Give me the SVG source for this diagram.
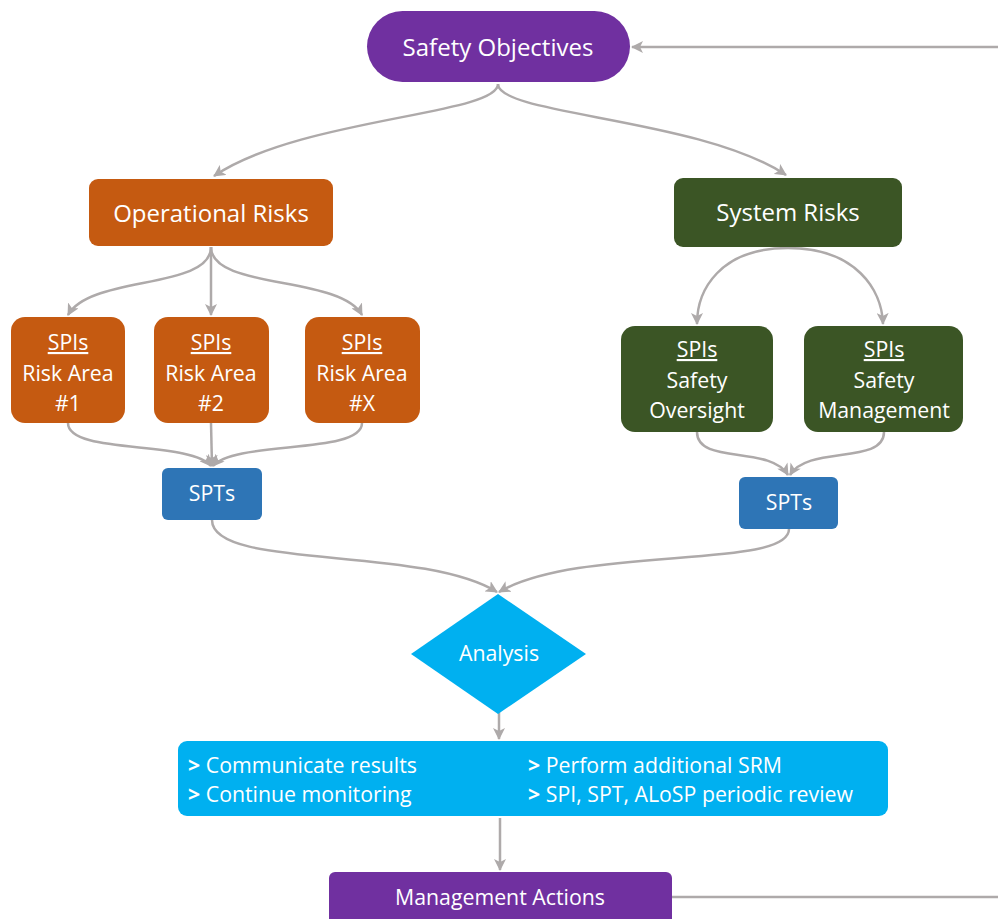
<svg xmlns="http://www.w3.org/2000/svg" width="998" height="919" viewBox="0 0 998 919">
<defs>
<marker id="ah" viewBox="0 0 12 12" refX="11" refY="6" markerWidth="12" markerHeight="12" markerUnits="userSpaceOnUse" orient="auto">
<path d="M0,0 L12,6 L0,12 L3,6 Z" fill="#AEAAAA"/>
</marker>
<style>
text{font-family:"Open Sans","Noto Sans","Liberation Sans",sans-serif;fill:#fff;}
.c{text-anchor:middle;}
.con{fill:none;stroke:#AEAAAA;stroke-width:2.5;marker-end:url(#ah);}
.line{fill:none;stroke:#AEAAAA;stroke-width:2.5;}
.purple{fill:#7030A0;}
.orange{fill:#C55A11;}
.green{fill:#3B5525;}
.blue{fill:#2E75B6;}
.cyan{fill:#00B0F0;}
.u{text-decoration:underline;}
.big{font-size:24px;}
.mid{font-size:21.3px;}
</style>
</defs>
<rect width="998" height="919" fill="#fff"/>
<g id="connectors">
<path class="con" d="M998,47 L632,47"/>
<path class="line" d="M672,897 L998,897"/>
<path class="con" d="M498,84 C498,115 300,118 214,176"/>
<path class="con" d="M498,84 C498,115 700,118 786,175"/>
<path class="con" d="M211,247 C211,290 90,275 68,315"/>
<path class="con" d="M211,247 L211,315"/>
<path class="con" d="M211,247 C211,290 340,275 362,315"/>
<path class="con" d="M788,248 C720,248 697,290 697,324"/>
<path class="con" d="M788,248 C856,248 882,290 883,324"/>
<path class="con" d="M68,423 C68,455 190,440 211,466"/>
<path class="con" d="M211,423 L212,466"/>
<path class="con" d="M362,423 C362,455 235,440 213,466"/>
<path class="con" d="M697,432 C697,465 770,445 788,475"/>
<path class="con" d="M884,432 C884,465 808,445 790,475"/>
<path class="con" d="M212,520 C212,570 420,545 497,592"/>
<path class="con" d="M789,529 C789,570 580,545 499,592"/>
<path class="con" d="M499,712 L499,739"/>
<path class="con" d="M500,818 L500,870"/>
</g>
<g id="safety-objectives">
<rect class="purple" x="367" y="11" width="263" height="71" rx="35.5"/>
<text class="c big" x="498" y="56">Safety Objectives</text>
</g>
<g id="operational-risks">
<rect class="orange" x="89" y="179" width="244" height="67" rx="9"/>
<text class="c big" x="211" y="222">Operational Risks</text>
</g>
<g id="system-risks">
<rect class="green" x="674" y="178" width="228" height="69" rx="9"/>
<text class="c big" x="788" y="221">System Risks</text>
</g>
<g id="spi-ra1">
<rect class="orange" x="11" y="317" width="114" height="106" rx="14"/>
<text class="c mid"><tspan class="u" x="68" y="350">SPIs</tspan><tspan x="68" y="381">Risk Area</tspan><tspan x="68" y="411">#1</tspan></text>
</g>
<g id="spi-ra2">
<rect class="orange" x="154" y="317" width="115" height="106" rx="14"/>
<text class="c mid"><tspan class="u" x="211" y="350">SPIs</tspan><tspan x="211" y="381">Risk Area</tspan><tspan x="211" y="411">#2</tspan></text>
</g>
<g id="spi-rax">
<rect class="orange" x="305" y="317" width="115" height="106" rx="14"/>
<text class="c mid"><tspan class="u" x="362" y="350">SPIs</tspan><tspan x="362" y="381">Risk Area</tspan><tspan x="362" y="411">#X</tspan></text>
</g>
<g id="spi-oversight">
<rect class="green" x="621" y="326" width="152" height="106" rx="14"/>
<text class="c mid"><tspan class="u" x="697" y="357">SPIs</tspan><tspan x="697" y="388">Safety</tspan><tspan x="697" y="418">Oversight</tspan></text>
</g>
<g id="spi-management">
<rect class="green" x="804" y="326" width="159" height="106" rx="14"/>
<text class="c mid"><tspan class="u" x="884" y="357">SPIs</tspan><tspan x="884" y="388">Safety</tspan><tspan x="884" y="418">Management</tspan></text>
</g>
<g id="spt-left">
<rect class="blue" x="162" y="468" width="100" height="52" rx="6"/>
<text class="c mid" x="212" y="501">SPTs</text>
</g>
<g id="spt-right">
<rect class="blue" x="739" y="477" width="99" height="52" rx="6"/>
<text class="c mid" x="789" y="510">SPTs</text>
</g>
<g id="analysis">
<polygon class="cyan" points="498,594 586,654 498,714 411,654"/>
<text class="c mid" x="499" y="661">Analysis</text>
</g>
<g id="results">
<rect class="cyan" x="178" y="741" width="710" height="75" rx="9"/>
<text class="mid" x="188" y="773"><tspan font-weight="bold">&gt;</tspan> Communicate results</text>
<text class="mid" x="188" y="802"><tspan font-weight="bold">&gt;</tspan> Continue monitoring</text>
<text class="mid" x="528" y="773"><tspan font-weight="bold">&gt;</tspan> Perform additional SRM</text>
<text class="mid" x="528" y="802"><tspan font-weight="bold">&gt;</tspan> SPI, SPT, ALoSP periodic review</text>
</g>
<g id="management-actions">
<rect class="purple" x="329" y="872" width="343" height="60" rx="6"/>
<text class="c mid" x="500" y="905">Management Actions</text>
</g>
</svg>
